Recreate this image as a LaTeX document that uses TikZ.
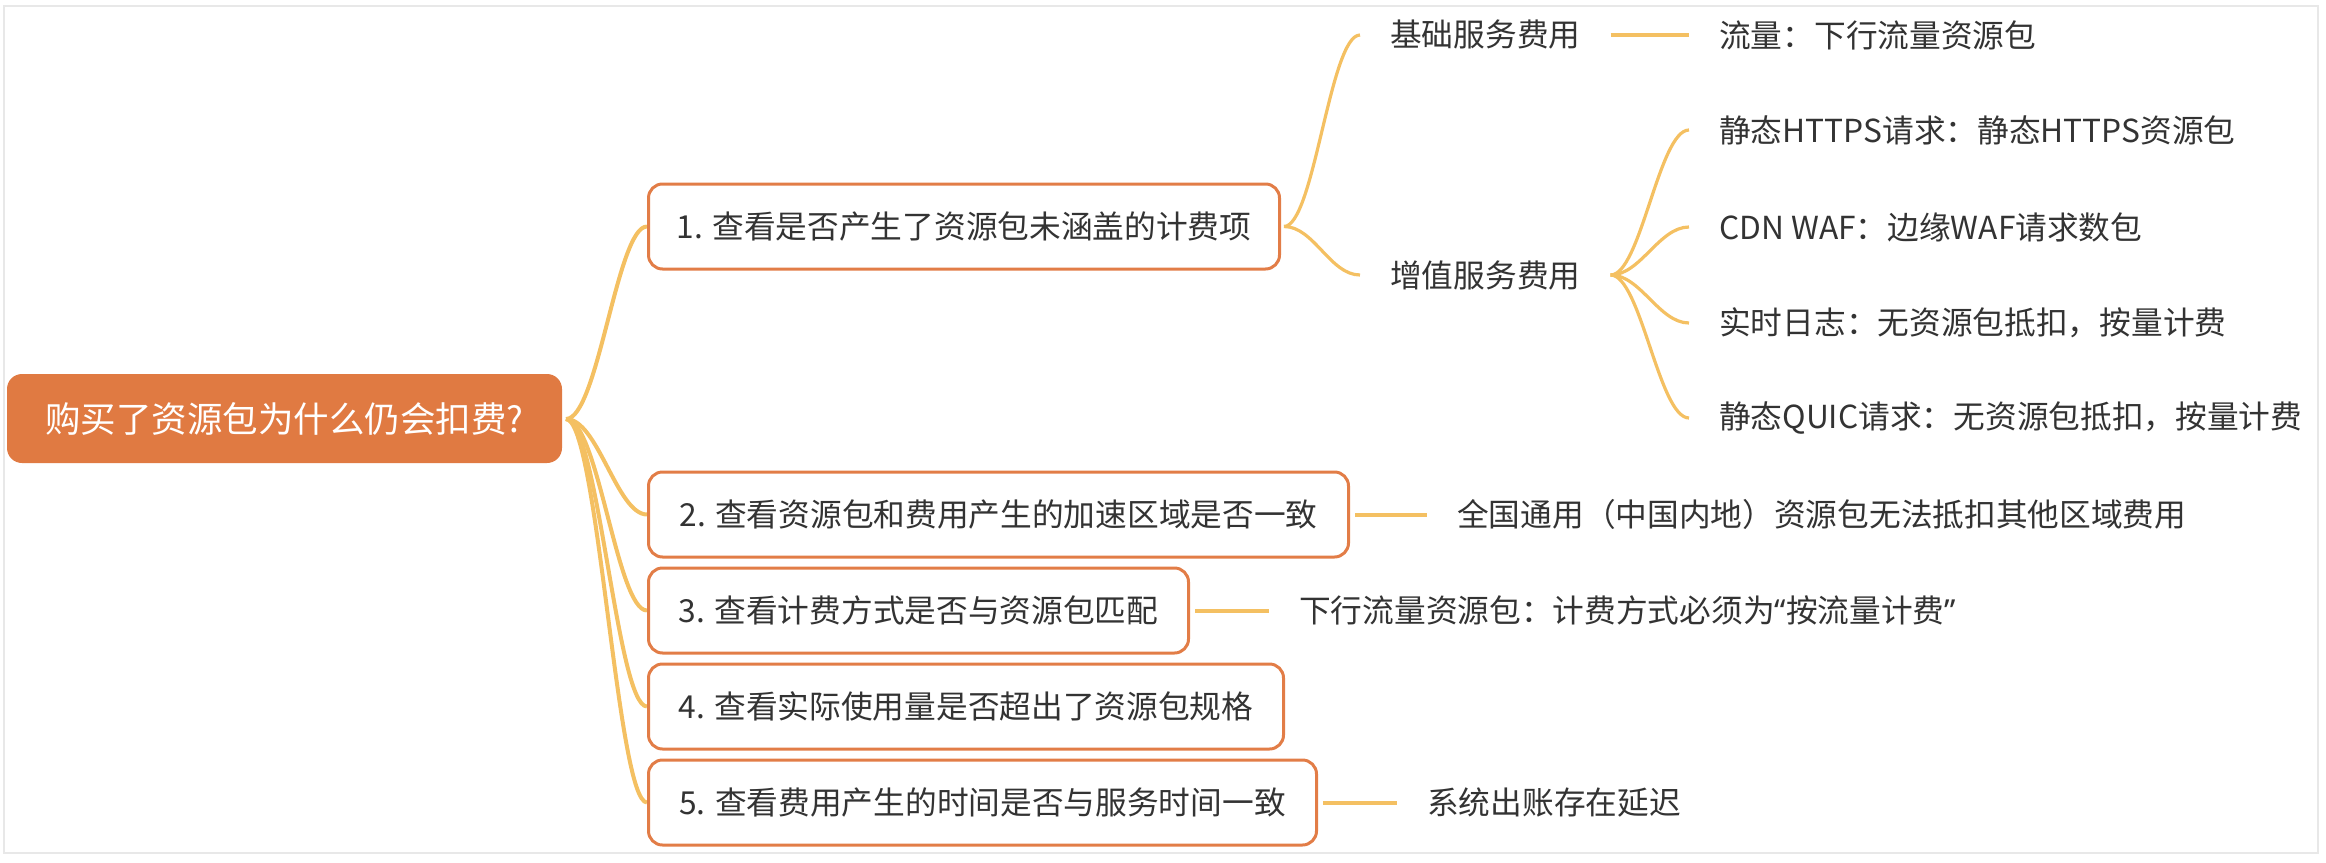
\documentclass[tikz,border=0pt]{standalone}
\usepackage{fontspec}
\newfontfamily\cjk{Noto Sans CJK SC}
\newfontfamily\latq{Noto Sans}
\definecolor{rootor}{HTML}{E07A42}
\definecolor{boxor}{HTML}{E27D47}
\definecolor{branch}{HTML}{F4C062}
\definecolor{txt}{HTML}{333333}
\definecolor{framec}{HTML}{E8E8E8}
\tikzset{
  rootbox/.style={fill=rootor, rounded corners=15pt, text=white, inner sep=0pt,
    font=\cjk\fontsize{35.5}{40}\selectfont, minimum height=89pt},
  stepbox/.style={draw=boxor, line width=3pt, fill=white, rounded corners=14pt,
    minimum height=85pt, inner sep=0pt, text=txt,
    font=\cjk\fontsize{31.7}{38}\selectfont},
  leaf/.style={inner xsep=30pt, inner ysep=0pt, text=txt,
    font=\cjk\fontsize{31.7}{38}\selectfont},
  mainline/.style={draw=branch, line width=4pt},
  subline/.style={draw=branch, line width=3.2pt},
  barline/.style={draw=branch, line width=4pt},
}
\begin{document}
\begin{tikzpicture}[x=1pt,y=-1pt]
\useasboundingbox (0,0) rectangle (2326,862);
\draw[framec, line width=2pt] (4,6) rectangle (2318,853);

% connectors first (under nodes)
\coordinate (rootpt) at (566,419);
\coordinate (b1w) at (647,226.5);
\coordinate (b2w) at (647,514.5);
\coordinate (b3w) at (647,610.5);
\coordinate (b4w) at (647,706.5);
\coordinate (b5w) at (647,802.5);
\draw[mainline] (rootpt) .. controls +(32,0) and +(-30,0) .. (b1w);
\draw[mainline] (rootpt) .. controls +(32,0) and +(-30,0) .. (b2w);
\draw[mainline] (rootpt) .. controls +(32,0) and +(-30,0) .. (b3w);
\draw[mainline] (rootpt) .. controls +(32,0) and +(-30,0) .. (b4w);
\draw[mainline] (rootpt) .. controls +(32,0) and +(-30,0) .. (b5w);

% root
\node[rootbox, minimum width=555pt] (root) at (284.5,418.5) {购买了资源包为什么仍会扣费?};

% level 1 boxes
\node[stepbox, minimum width=631pt, anchor=west] (b1) at (b1w) {1. 查看是否产生了资源包未涵盖的计费项};
\node[stepbox, minimum width=700pt, anchor=west] (b2) at (b2w) {2. 查看资源包和费用产生的加速区域是否一致};
\node[stepbox, minimum width=540pt, anchor=west] (b3) at (b3w) {3. 查看计费方式是否与资源包匹配};
\node[stepbox, minimum width=635pt, anchor=west] (b4) at (b4w) {4. 查看实际使用量是否超出了资源包规格};
\node[stepbox, minimum width=668pt, anchor=west] (b5) at (b5w) {5. 查看费用产生的时间是否与服务时间一致};

% level 2 (under box 1)
\node[leaf, anchor=west] (jc) at (1360,35) {基础服务费用};
\node[leaf, anchor=west] (zz) at (1360,275) {增值服务费用};
\draw[subline] ([xshift=3pt]b1.east) .. controls +(30,0) and +(-30,0) .. (jc.west);
\draw[subline] ([xshift=3pt]b1.east) .. controls +(30,0) and +(-30,0) .. (zz.west);

% level 3
\node[leaf, anchor=west] (ll) at (1689,35) {流量：下行流量资源包};
\node[leaf, anchor=west] (https) at (1689,130) {静态HTTPS请求：静态HTTPS资源包};
\node[leaf, anchor=west] (waf) at (1689,227) {CDN WAF：边缘WAF请求数包};
\node[leaf, anchor=west] (rz) at (1689,323) {实时日志：无资源包抵扣，按量计费};
\node[leaf, anchor=west] (quic) at (1689,418) {静态QUIC请求：无资源包抵扣，按量计费};
\draw[barline] (jc.east) -- (ll.west);
\draw[subline] (zz.east) .. controls +(30,0) and +(-30,0) .. (https.west);
\draw[subline] (zz.east) .. controls +(30,0) and +(-30,0) .. (waf.west);
\draw[subline] (zz.east) .. controls +(30,0) and +(-30,0) .. (rz.west);
\draw[subline] (zz.east) .. controls +(30,0) and +(-30,0) .. (quic.west);

% leaves of boxes 2, 3, 5
\node[leaf, anchor=west] (l2) at (1427,514.5) {全国通用（中国内地）资源包无法抵扣其他区域费用};
\node[leaf, anchor=west] (l3) at (1269,610.5) {下行流量资源包：计费方式必须为{\latq “}按流量计费{\latq ”}};
\node[leaf, anchor=west] (l5) at (1397,802.5) {系统出账存在延迟};
\draw[barline] ([xshift=5pt]b2.east) -- (l2.west);
\draw[barline] ([xshift=5pt]b3.east) -- (l3.west);
\draw[barline] ([xshift=5pt]b5.east) -- (l5.west);
\end{tikzpicture}
\end{document}
